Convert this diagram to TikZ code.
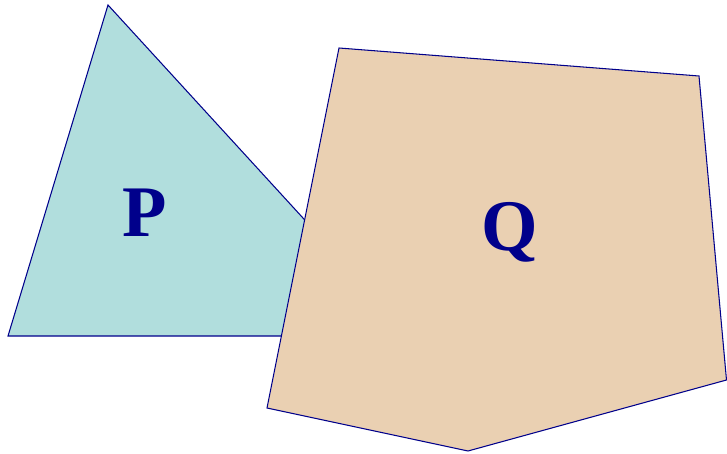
\documentclass[tikz,border=0pt]{standalone}
\usepackage{fontspec}
\setmainfont{Liberation Serif}
\usepackage{tikz}
\definecolor{plNavy}{HTML}{00008B}
\definecolor{plTeal}{HTML}{B1DEDD}
\definecolor{plTan}{HTML}{EAD0B2}
\tikzset{
  polyface/.style={draw=plNavy, line width=0.9pt, line join=miter},
  polyP/.style={polyface, fill=plTeal},
  polyQ/.style={polyface, fill=plTan},
  polylabel/.style={font=\fontsize{62}{62}\selectfont\bfseries, text=plNavy, anchor=base, inner sep=0pt}
}
\begin{document}
\begin{tikzpicture}[x=0.03cm, y=-0.03cm]
  \useasboundingbox (0,0) rectangle (727,454);
  % triangle P
  \coordinate (p1) at (108,5);
  \coordinate (p2) at (8,336);
  \coordinate (p3) at (411,336);
  % pentagon Q
  \coordinate (q1) at (339,48);
  \coordinate (q2) at (699,76);
  \coordinate (q3) at (726.5,380);
  \coordinate (q4) at (468,451);
  \coordinate (q5) at (267,408);
  \draw[polyP] (p1) -- (p2) -- (p3) -- cycle;
  \draw[polyQ] (q1) -- (q2) -- (q3) -- (q4) -- (q5) -- cycle;
  \node[polylabel] (labP) at (145,236) {P};
  \node[polylabel] (labQ) at (510,250) {Q};
\end{tikzpicture}
\end{document}
